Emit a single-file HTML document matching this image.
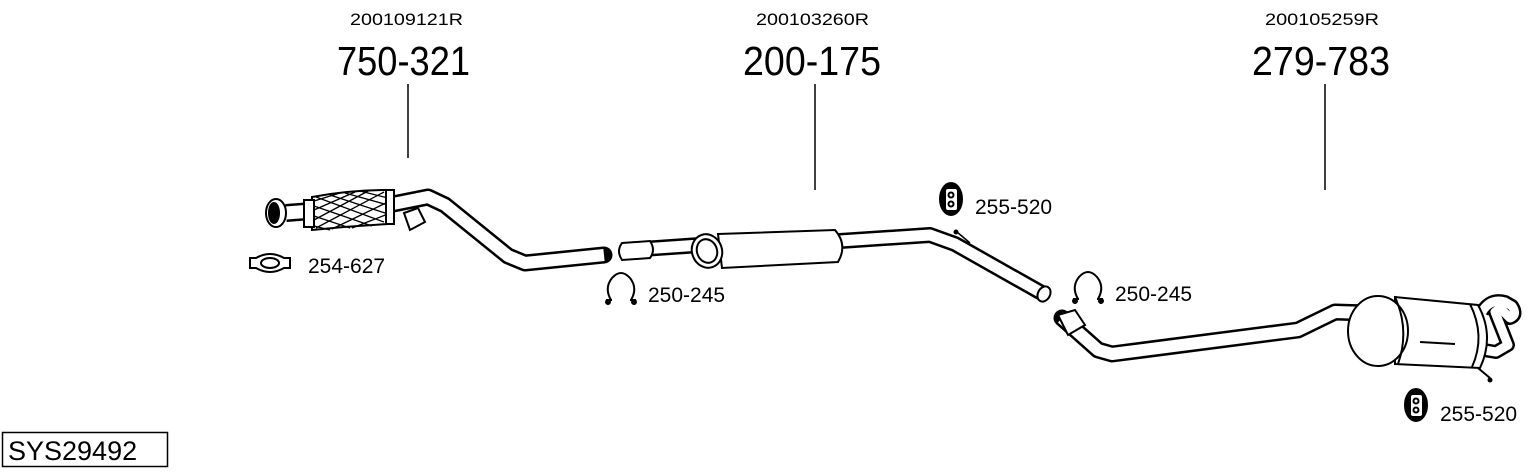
<!DOCTYPE html>
<html><head><meta charset="utf-8"><style>
html,body{margin:0;padding:0;background:#fff;}
svg{display:block;font-family:"Liberation Sans",Arial,sans-serif;}
</style></head><body>
<svg width="1530" height="474" viewBox="0 0 1530 474" xmlns="http://www.w3.org/2000/svg">
<g fill="#000">
<text x="350" y="25" font-size="16.5" textLength="113" lengthAdjust="spacingAndGlyphs">200109121R</text>
<text x="337" y="75" font-size="41" textLength="133" lengthAdjust="spacingAndGlyphs">750-321</text>
<text x="756" y="25" font-size="16.5" textLength="113" lengthAdjust="spacingAndGlyphs">200103260R</text>
<text x="743" y="75" font-size="41" textLength="138" lengthAdjust="spacingAndGlyphs">200-175</text>
<text x="1265" y="25" font-size="16.5" textLength="114" lengthAdjust="spacingAndGlyphs">200105259R</text>
<text x="1252" y="75" font-size="41" textLength="138" lengthAdjust="spacingAndGlyphs">279-783</text>
<text x="308" y="273" font-size="21">254-627</text>
<text x="648" y="302" font-size="21">250-245</text>
<text x="975" y="214" font-size="21">255-520</text>
<text x="1115" y="301" font-size="21">250-245</text>
<text x="1440" y="421" font-size="21">255-520</text>
<text x="8" y="460" font-size="27">SYS29492</text>
</g>
<rect x="2.5" y="432.5" width="165" height="34" fill="none" stroke="#000" stroke-width="1.5"/>
<g stroke="#000" stroke-width="1.5">
<line x1="408" y1="84" x2="408" y2="158"/>
<line x1="815" y1="84" x2="815" y2="190"/>
<line x1="1325" y1="84" x2="1325" y2="190"/>
</g>
<g fill="none" stroke-linejoin="round">
<path d="M388 205 L428 197 L445 205 L508 256 L525 263 L604 255" stroke="#000" stroke-width="17" stroke-linecap="round"/>
<path d="M388 205 L428 197 L445 205 L508 256 L525 263 L604 255" stroke="#fff" stroke-width="12"/>
<path d="M286 213 L312 211" stroke="#000" stroke-width="18"/>
<path d="M286 213 L312 211" stroke="#fff" stroke-width="13"/>
<path d="M628 250 L700 245" stroke="#000" stroke-width="16" stroke-linecap="round"/>
<path d="M628 250 L700 245" stroke="#fff" stroke-width="11"/>
<path d="M840 241 L930 235 L955 244 L1040 292" stroke="#000" stroke-width="16" stroke-linecap="round"/>
<path d="M840 241 L930 235 L955 244 L1040 292" stroke="#fff" stroke-width="11"/>
<path d="M1062 318 L1098 350 L1112 354 L1298 330 L1335 312 L1368 313" stroke="#000" stroke-width="17" stroke-linecap="round"/>
<path d="M1062 318 L1098 350 L1112 354 L1298 330 L1335 312 L1368 313" stroke="#fff" stroke-width="12"/>
<!-- rear tail hook -->
<path d="M1482 312 Q1490 298 1505 302 L1512 306 Q1518 315 1510 318 L1500 308 L1495 312 L1508 345 L1496 352 L1484 350" stroke="#000" stroke-width="14"/>
<path d="M1482 312 Q1490 298 1505 302 L1512 306 Q1518 315 1510 318 L1500 308 L1495 312 L1508 345 L1496 352 L1484 350" stroke="#fff" stroke-width="9"/>
</g>
<g stroke="#000" stroke-width="2" fill="#fff">
<path d="M312 197 Q350 190 388 190 L388 224 Q350 226 312 230 Z"/>
<path d="M316 197 L384 222 M330 195 L388 214 M345 193 L388 205 M360 191 L388 198 M314 206 L372 226 M314 216 L350 228 M314 226 L330 230 M384 192 L316 228 M370 190 L314 220 M355 192 L314 210 M340 193 L314 201 M388 202 L332 229 M388 214 L352 228" stroke-width="1.3"/>
<rect x="386" y="190" width="8" height="34"/>
<rect x="304" y="200" width="10" height="27"/>
<ellipse cx="276" cy="213" rx="10" ry="14"/>
<ellipse cx="274" cy="213" rx="5" ry="10" fill="#000"/>
<path d="M404 213 L418 208 L425 222 L410 230 Z"/>
<path d="M718 234 L835 230 Q848 245 838 262 L722 268 Z"/>
<ellipse cx="707" cy="251" rx="15" ry="17" transform="rotate(-20 707 251)"/>
<ellipse cx="707" cy="251" rx="10" ry="12" transform="rotate(-20 707 251)"/>
<path d="M622 243 L650 241 Q656 250 650 258 L622 260 Q616 251 622 243 Z"/>
<ellipse cx="1044" cy="294" rx="6" ry="8" transform="rotate(30 1044 294)"/>
<path d="M1395 297 L1478 305 Q1495 336 1480 368 L1395 364 Z"/>
<path d="M1470 304 Q1486 336 1472 367" fill="none"/>
<ellipse cx="1378" cy="331" rx="30" ry="35"/>
<path d="M1395 297 Q1410 330 1398 364" fill="none"/>
<path d="M1058 315 L1075 310 L1085 325 L1068 335 Z"/>
<path d="M1420 342 L1455 344" fill="none"/>
<path d="M1478 368 L1490 378" fill="none"/>
</g>
<circle cx="1490" cy="380" r="2.5"/>
<line x1="957" y1="232" x2="970" y2="243" stroke="#000" stroke-width="1.5"/>
<circle cx="956" cy="232" r="2.5"/>
<g stroke="#000" stroke-width="2" fill="#fff">
<path d="M256 258 Q270 250 284 258 L290 258 L290 268 L284 268 Q270 276 256 268 L250 268 L250 258 Z"/>
<ellipse cx="270" cy="263" rx="9" ry="5"/>
<path d="M611 300 Q604 288 612 278 Q621 268 630 278 Q638 288 631 300"/>
<path d="M606 300 L612 300 M630 300 L636 300"/>
<circle cx="608" cy="302" r="2" fill="#000"/><circle cx="634" cy="302" r="2" fill="#000"/>
<path d="M1078 299 Q1071 287 1079 277 Q1088 267 1097 277 Q1105 287 1098 299"/>
<path d="M1073 299 L1079 299 M1097 299 L1103 299"/>
<circle cx="1075" cy="301" r="2" fill="#000"/><circle cx="1101" cy="301" r="2" fill="#000"/>
<ellipse cx="951" cy="199" rx="11" ry="16" fill="#000"/>
<rect x="945" y="188" width="13" height="23" rx="3"/>
<circle cx="951" cy="195" r="2.5"/><circle cx="951" cy="204" r="2.5"/>
<ellipse cx="1416" cy="405" rx="11" ry="16" fill="#000"/>
<rect x="1410" y="394" width="13" height="23" rx="3"/>
<circle cx="1416" cy="401" r="2.5"/><circle cx="1416" cy="410" r="2.5"/>
</g>
</svg>
</body></html>
